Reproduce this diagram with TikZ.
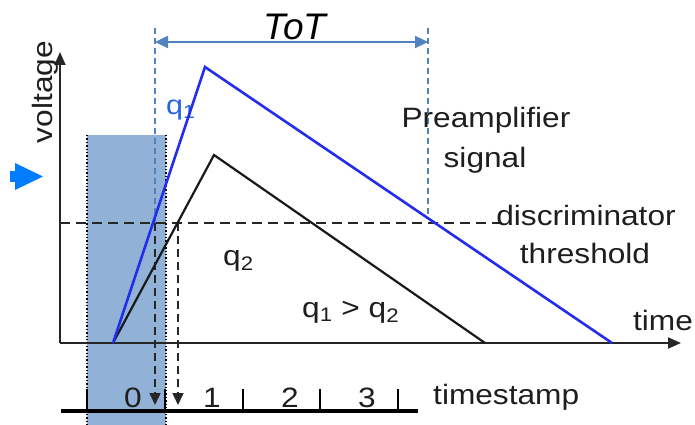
\documentclass[tikz,border=0pt]{standalone}
\usepackage{fontspec}
\setmainfont{Liberation Sans}[FakeStretch=1.13]
\newfontfamily\totfont{Liberation Sans}
\usetikzlibrary{arrows.meta}
\definecolor{sigblue}{RGB}{35,45,235}
\definecolor{lblblue}{RGB}{40,100,225}
\definecolor{totblue}{RGB}{80,130,190}
\definecolor{shadeblue}{RGB}{145,178,214}
\definecolor{markblue}{RGB}{0,125,255}
\definecolor{txtgray}{RGB}{30,30,30}
\tikzset{
  lbl/.style={font=\fontsize{28}{31}\selectfont, inner sep=0pt, text=txtgray},
  axisline/.style={line width=1.8pt, draw=black!85, -{Triangle[length=13pt,width=11pt]}},
  thrline/.style={line width=1.7pt, draw=black!85, dash pattern=on 10pt off 6pt},
  dropline/.style={line width=1.6pt, draw=black!85, dash pattern=on 8pt off 5pt, -{Triangle[length=12pt,width=11pt]}},
  bluedash/.style={line width=1.6pt, draw=totblue, dash pattern=on 6pt off 4pt},
  totarrow/.style={line width=2.2pt, draw=totblue, {Triangle[length=13pt,width=12pt]}-{Triangle[length=13pt,width=12pt]}},
  ticklbl/.style={lbl, anchor=base},
}
\begin{document}
\begin{tikzpicture}[x=1pt,y=-1pt]
\useasboundingbox (0,0) rectangle (695,425);
% shaded sampling window
\fill[shadeblue] (87,135) rectangle (166,425);
\draw[dotted, line width=1.4pt] (87,135) -- (87,425);
\draw[dotted, line width=1.4pt] (166,135) -- (166,425);
% coordinates
\coordinate (O) at (60,343);
\coordinate (Vtop) at (60,52);
\coordinate (Tend) at (681,343);
\coordinate (S) at (113,343);
\coordinate (P1) at (205,67);
\coordinate (E1) at (612,343);
\coordinate (P2) at (214,155);
\coordinate (E2) at (485,343);
\coordinate (Th0) at (60,223);
\coordinate (Th1) at (505,223);
\coordinate (X1) at (155,223);
\coordinate (X1b) at (155,405);
\coordinate (X2) at (178,223);
\coordinate (X2b) at (178,405);
\coordinate (B1t) at (155,28);
\coordinate (B2t) at (428,28);
\coordinate (B2b) at (428,217);
\coordinate (T1) at (155,42);
\coordinate (T2) at (428,42);
\coordinate (L0) at (61,411);
\coordinate (L1) at (418,411);
% labels behind lines
\node[lbl, text=lblblue, anchor=base west, font=\fontsize{27}{30}\selectfont] (q1) at (166,114) {q\textsubscript{1}};
% axes
\draw[axisline] (O) -- (Vtop);
\draw[axisline] (O) -- (Tend);
% threshold
\draw[thrline] (Th0) -- (Th1);
% blue dashed markers and ToT
\draw[bluedash] (B1t) -- (X1);
\draw[bluedash] (B2t) -- (B2b);
\draw[totarrow] (T1) -- (T2);
% drops
\draw[dropline] (X1) -- (X1b);
\draw[dropline] (X2) -- (X2b);
% signals
\draw[line width=2.2pt, black!90, line join=miter] (S) -- (P2) -- (E2);
\draw[line width=2.6pt, sigblue, line join=miter] (S) -- (P1) -- (E1);
% timeline
\draw[line width=4.8pt] (L0) -- (L1);
\foreach \x [count=\i] in {87,165,243,320,398} {
  \coordinate (tk\i) at (\x,389);
  \draw[line width=1.4pt] (tk\i) -- (\x,411);
}
\node[ticklbl] (d0) at (133,407) {0};
\node[ticklbl] (d1) at (212,407) {1};
\node[ticklbl] (d2) at (290,407) {2};
\node[ticklbl] (d3) at (367,407) {3};
\node[lbl, anchor=base west] (ts) at (433,404) {timestamp};
% marker
\fill[markblue] (15,163) -- (43,176.5) -- (15,190) -- cycle;
\fill[markblue] (10,171) rectangle (16,182);
% texts
\node[lbl, anchor=base, rotate=90] (volt) at (52,92) {voltage};
\node[lbl, anchor=base] (time) at (663,330) {time};
\node[lbl, anchor=base] (pre1) at (486,128) {Preamplifier};
\node[lbl, anchor=base] (pre2) at (485,167) {signal};
\node[lbl, anchor=base] (disc1) at (586,225) {discriminator};
\node[lbl, anchor=base] (disc2) at (585,263) {threshold};
\node[lbl, anchor=base west] (q2) at (223,265) {q\textsubscript{2}};
\node[lbl, anchor=base west] (cmp) at (302,317) {q\textsubscript{1} > q\textsubscript{2}};
\node[inner sep=0pt, anchor=base, font=\totfont\itshape\fontsize{37}{40}\selectfont, text=black] (tot) at (295,40) {ToT};
\end{tikzpicture}
\end{document}
